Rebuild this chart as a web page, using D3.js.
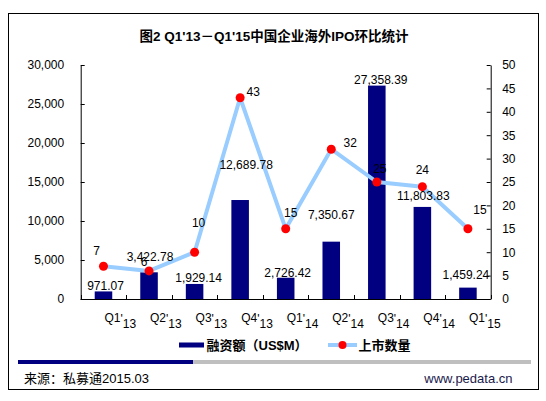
<!DOCTYPE html>
<html>
<head>
<meta charset="utf-8">
<script src="https://cdn.jsdelivr.net/npm/d3@7"></script>
<style>
  body { margin: 0; background: #fff; }
  text { font-family: "Liberation Sans", Arial, "Noto Sans CJK SC", sans-serif; }
  .cjk { font-family: "Liberation Sans", Arial, "Noto Sans CJK SC", sans-serif; font-weight: bold; }
</style>
</head>
<body>
<div id="chart"></div>
<script>
// data
var quarters = ["Q1'13", "Q2'13", "Q3'13", "Q4'13", "Q1'14", "Q2'14", "Q3'14", "Q4'14", "Q1'15"];
var amounts = [971.07, 3422.78, 1929.14, 12689.78, 2726.42, 7350.67, 27358.39, 11803.83, 1459.24];
var counts = [7, 6, 10, 43, 15, 32, 25, 24, 15];
var leftTicks = [0, 5000, 10000, 15000, 20000, 25000, 30000];
var rightTicks = [0, 5, 10, 15, 20, 25, 30, 35, 40, 45, 50];

// label nudges (dx, dy) from the bar top / point, as placed in the original
var amountNudge = [[2, -6], [1, -16], [4, -6], [6, -35], [2, -5], [0, -27], [4, -6], [1, -11], [-2, -13]];
var countNudge = [[-7, -15], [-5, -9], [4, -29], [13, -6], [5, -16], [19, -6], [3, -13], [0, -17], [12, -19]];

var W = 546, H = 401;
var plot = { left: 80.7, right: 490.7, top: 65, bottom: 299 };

var svg = d3.select("#chart")
  .append("svg")
  .attr("width", W)
  .attr("height", H);

// frame
svg.append("rect")
  .attr("x", 8.5).attr("y", 13.5)
  .attr("width", 530).attr("height", 376)
  .attr("fill", "#fff")
  .attr("stroke", "#000")
  .attr("stroke-width", 1);

// title
svg.append("text")
  .attr("class", "cjk")
  .attr("x", 274)
  .attr("y", 41)
  .attr("text-anchor", "middle")
  .style("font-size", "13.5px")
  .text("图2 Q1'13－Q1'15中国企业海外IPO环比统计");

var x = d3.scaleBand()
  .domain(quarters)
  .range([plot.left, plot.right])
  .paddingInner(0.615)
  .paddingOuter(0.3075);

var y = d3.scaleLinear()
  .domain([0, 30000])
  .range([plot.bottom, plot.top]);

var y2 = d3.scaleLinear()
  .domain([0, 50])
  .range([plot.bottom, plot.top]);

// left axis
var gl = svg.append("g")
  .attr("transform", "translate(" + plot.left + ",0)")
  .call(d3.axisLeft(y).tickValues(leftTicks).tickFormat(d3.format(","))
    .tickSizeInner(-4).tickSizeOuter(0).tickPadding(16.5));

// right axis
var gr = svg.append("g")
  .attr("transform", "translate(" + plot.right + ",0)")
  .call(d3.axisRight(y2).tickValues(rightTicks)
    .tickSizeInner(-4).tickSizeOuter(0).tickPadding(11.5));

[gl, gr].forEach(function (g) {
  g.selectAll("text").style("font-size", "12px").attr("fill", "#000")
    .style("font-family", "'Liberation Sans', Arial, sans-serif");
  g.selectAll("line, path").attr("stroke", "#000");
});

// bottom axis line and category dividers
svg.append("line")
  .attr("x1", plot.left).attr("x2", plot.right)
  .attr("y1", plot.bottom + 0.5).attr("y2", plot.bottom + 0.5)
  .attr("stroke", "#000");

var bounds = quarters.map(function (q) { return x(q) + x.bandwidth() / 2 - x.step() / 2; });
bounds.push(plot.right);
svg.append("g").selectAll("line")
  .data(bounds)
  .enter()
  .append("line")
  .attr("x1", function (d) { return Math.round(d) + 0.5; })
  .attr("x2", function (d) { return Math.round(d) + 0.5; })
  .attr("y1", plot.bottom)
  .attr("y2", plot.bottom - 4)
  .attr("stroke", "#000");

// category labels, the year part sits a little lower
var xl = svg.append("g").selectAll("text")
  .data(quarters)
  .enter()
  .append("text")
  .attr("x", function (d) { return x(d) + x.bandwidth() / 2 + 1; })
  .attr("y", 321.5)
  .style("font-size", "12px")
  .attr("fill", "#000");
xl.append("tspan").text(function (d) { return d.slice(0, 2); });
xl.append("tspan").attr("dy", 1.5).text(function (d) { return d.slice(2, 3); });
xl.append("tspan").attr("dy", 4.5).text(function (d) { return d.slice(3); });

// bars
svg.append("g").selectAll("rect")
  .data(amounts)
  .enter()
  .append("rect")
  .attr("x", function (d, i) { return x(quarters[i]); })
  .attr("y", function (d) { return y(d); })
  .attr("width", x.bandwidth())
  .attr("height", function (d) { return y(0) - y(d); })
  .attr("fill", "#000080");

// line of listings
var line = d3.line()
  .x(function (d, i) { return x(quarters[i]) + x.bandwidth() / 2; })
  .y(function (d) { return y2(d); });

svg.append("path")
  .datum(counts)
  .attr("d", line)
  .attr("fill", "none")
  .attr("stroke", "#99CCFF")
  .attr("stroke-width", 4)
  .attr("stroke-linejoin", "round");

svg.append("g").selectAll("circle")
  .data(counts)
  .enter()
  .append("circle")
  .attr("cx", function (d, i) { return x(quarters[i]) + x.bandwidth() / 2; })
  .attr("cy", function (d) { return y2(d); })
  .attr("r", 4.5)
  .attr("fill", "#FF0000");

// value labels
var fmt = d3.format(",.2f");
svg.append("g").selectAll("text")
  .data(amounts)
  .enter()
  .append("text")
  .attr("x", function (d, i) { return x(quarters[i]) + x.bandwidth() / 2 + amountNudge[i][0]; })
  .attr("y", function (d, i) { return y(d) + amountNudge[i][1]; })
  .attr("dy", "0.35em")
  .attr("text-anchor", "middle")
  .style("font-size", "12px")
  .text(function (d) { return fmt(d); });

svg.append("g").selectAll("text")
  .data(counts)
  .enter()
  .append("text")
  .attr("x", function (d, i) { return x(quarters[i]) + x.bandwidth() / 2 + countNudge[i][0]; })
  .attr("y", function (d, i) { return y2(d) + countNudge[i][1]; })
  .attr("dy", "0.35em")
  .attr("text-anchor", "middle")
  .style("font-size", "12px")
  .text(function (d) { return d; });

// legend
svg.append("rect")
  .attr("x", 179).attr("y", 342.5)
  .attr("width", 25).attr("height", 5)
  .attr("fill", "#000080");
svg.append("text")
  .attr("class", "cjk")
  .attr("x", 206.5).attr("y", 350)
  .style("font-size", "13px")
  .text("融资额（US$M）");

svg.append("line")
  .attr("x1", 328).attr("x2", 357)
  .attr("y1", 345).attr("y2", 345)
  .attr("stroke", "#99CCFF")
  .attr("stroke-width", 4);
svg.append("circle")
  .attr("cx", 342.5).attr("cy", 345).attr("r", 4)
  .attr("fill", "#FF0000");
svg.append("text")
  .attr("class", "cjk")
  .attr("x", 358.5).attr("y", 350)
  .style("font-size", "13px")
  .text("上市数量");

// footer band
svg.append("rect")
  .attr("x", 18).attr("y", 360)
  .attr("width", 513).attr("height", 4)
  .attr("fill", "#BFBFBF");
svg.append("rect")
  .attr("x", 18).attr("y", 360)
  .attr("width", 175).attr("height", 4)
  .attr("fill", "#000080");

svg.append("text")
  .attr("x", 24).attr("y", 382.5)
  .style("font-size", "13px")
  .attr("fill", "#000")
  .text("来源：私募通2015.03");

svg.append("text")
  .attr("x", 512.5).attr("y", 382.5)
  .attr("text-anchor", "end")
  .style("font-size", "13px")
  .attr("fill", "#1a1a4d")
  .text("www.pedata.cn");
</script>
</body>
</html>
